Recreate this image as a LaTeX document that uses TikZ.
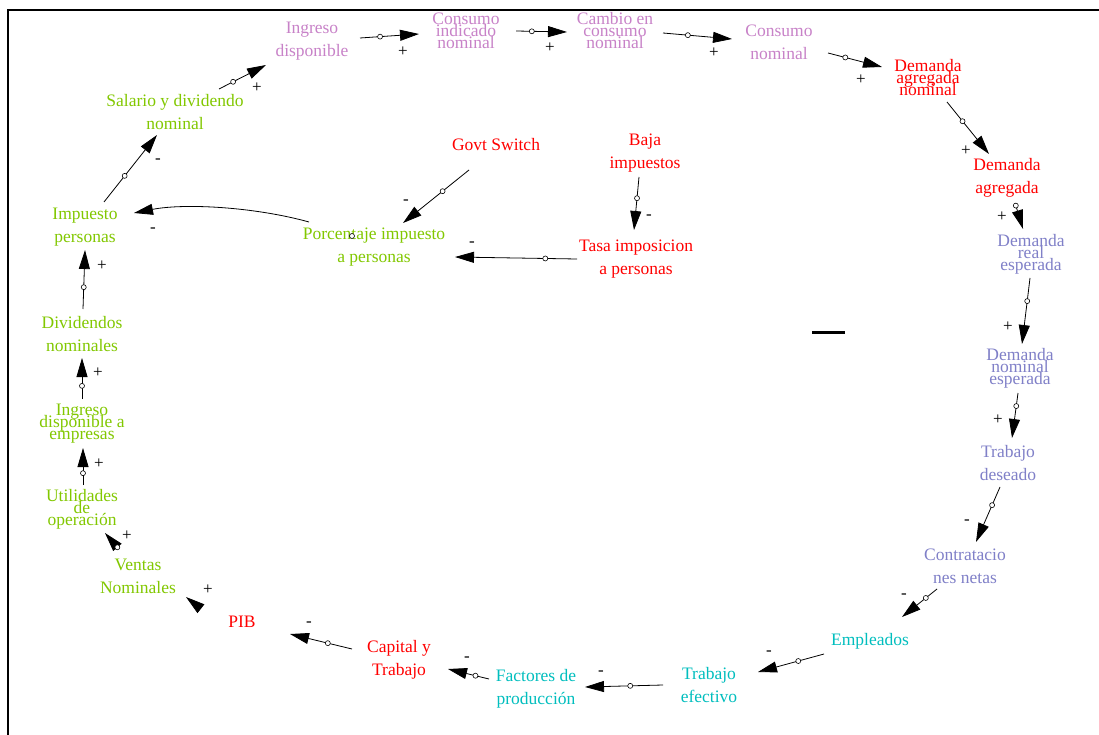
\documentclass[tikz,border=0pt]{standalone}
\usepackage{fontspec}
\setmainfont{Liberation Serif}
\usetikzlibrary{arrows.meta,calc}
\definecolor{cviol}{RGB}{200,130,200}
\definecolor{cgreen}{RGB}{130,200,0}
\definecolor{cblue}{RGB}{128,128,200}
\definecolor{ccyan}{RGB}{0,190,190}
\definecolor{cred}{RGB}{255,0,0}
\begin{document}
\begin{tikzpicture}[x=1pt,y=-1pt,
  lbl/.style={inner sep=0pt,align=center,font=\fontsize{17.5}{23}\selectfont},
  vi/.style={lbl,text=cviol},
  gr/.style={lbl,text=cgreen},
  bl/.style={lbl,text=cblue},
  cy/.style={lbl,text=ccyan},
  rd/.style={lbl,text=cred},
  lk/.style={draw=black,line width=0.8pt,-{Triangle[length=19pt,width=11pt]}},
  hc/.style={circle,draw=black,fill=white,inner sep=0pt,minimum size=5pt,line width=0.6pt},
  pm/.style={inner sep=0pt,font=\fontsize{17}{20}\selectfont}]
\useasboundingbox (0,0) rectangle (1099,735);
\fill[white] (0,0) rectangle (1099,735);
\draw[line width=2.3pt] (8,735) -- (8,10) -- (1099,10);

% nodes
\node[gr] (sal) at (175,112) {Salario y dividendo\\nominal};
\node[vi] (ingd) at (312,41) {Ingreso\\disponible};
\node[vi] (cin) at (466,31) {Consumo\\[-11pt]indicado\\[-11pt]nominal};
\node[vi] (ccn) at (615,31) {Cambio en\\[-11pt]consumo\\[-11pt]nominal};
\node[vi] (cn) at (779,42) {Consumo\\nominal};
\node[rd] (dan) at (928,78) {Demanda\\[-11pt]agregada\\[-11pt]nominal};
\node[rd] (da) at (1007,178) {Demanda\\agregada};
\node[bl] (dre) at (1031,254) {Demanda\\[-11pt]real\\[-11pt]esperada};
\node[bl] (dne) at (1020,368) {Demanda\\[-11pt]nominal\\[-11pt]esperada};
\node[bl] (td) at (1008,463) {Trabajo\\deseado};
\node[bl] (con) at (965,566) {Contratacio\\nes netas};
\node[cy] (emp) at (870,641) {Empleados};
\node[cy] (te) at (709,685) {Trabajo\\efectivo};
\node[cy] (fp) at (536,689) {Factores de\\producción};
\node[rd] (ct) at (399,660) {Capital y\\Trabajo};
\node[rd] (pib) at (242,622) {PIB};
\node[gr] (ven) at (138,576) {Ventas\\Nominales};
\node[gr] (uti) at (82,509) {Utilidades\\[-11pt]de\\[-11pt]operación};
\node[gr] (ide) at (82,424) {Ingreso\\[-11pt]disponible a\\[-11pt]empresas};
\node[gr] (div) at (82,334) {Dividendos\\nominales};
\node[gr] (imp) at (85,227) {Impuesto\\personas};
\node[gr] (por) at (374,247) {Porcentaje impuesto\\a personas};
\node[rd] (gov) at (496,145) {Govt Switch};
\node[rd] (baj) at (645,153) {Baja\\impuestos};
\node[rd] (tas) at (636,259) {Tasa imposicion\\a personas};

% connectors
\draw[lk] ($(sal)+(44,-23)$) -- node[hc,pos=.30]{} ($(ingd)+(-46,24)$);
\draw[lk] ($(ingd)+(48,-3)$) -- node[hc,pos=.34]{} ($(cin)+(-47,3)$);
\draw[lk] ($(cin)+(50,0)$) -- node[hc,pos=.31]{} ($(ccn)+(-48,1)$);
\draw[lk] ($(ccn)+(48,2)$) -- node[hc,pos=.36]{} ($(cn)+(-47,-3)$);
\draw[lk] ($(cn)+(49,11)$) -- node[hc,pos=.32]{} ($(dan)+(-46,-11)$);
\draw[lk] ($(dan)+(19,24)$) -- node[hc,pos=.37]{} ($(da)+(-18,-24)$);
\draw[lk] ($(da)+(8,25)$) -- node[hc,pos=.10]{} ($(dre)+(-8,-25)$);
\draw[lk] ($(dre)+(-1,24)$) -- node[hc,pos=.35]{} ($(dne)+(2,-24)$);
\draw[lk] ($(dne)+(-2,25)$) -- node[hc,pos=.29]{} ($(td)+(4,-25)$);
\draw[lk] ($(td)+(-8,24)$) -- node[hc,pos=.33]{} ($(con)+(11,-24)$);
\draw[lk] ($(con)+(-28,23)$) -- node[hc,pos=.32]{} ($(emp)+(32,-24)$);
\draw[lk] ($(emp)+(-46,13)$) -- node[hc,pos=.39]{} ($(te)+(49,-13)$);
\draw[lk] ($(te)+(-46,0)$) -- node[hc,pos=.42]{} ($(fp)+(49,-2)$);
\draw[lk] ($(fp)+(-47,-10)$) -- node[hc,pos=.33]{} ($(ct)+(49,9)$);
\draw[lk] ($(ct)+(-47,-11)$) -- node[hc,pos=.39]{} ($(pib)+(48,12)$);
\draw[lk] ($(pib)+(-42,-14)$) -- ($(ven)+(48,21)$);
\draw[lk] ($(ven)+(-20,-28)$) -- node[hc,pos=.05]{} ($(uti)+(23,24)$);
\draw[lk] ($(uti)+(1,-24)$) -- node[hc,pos=.32]{} ($(ide)+(1,24)$);
\draw[lk] ($(ide)+(0,-25)$) -- node[hc,pos=.32]{} ($(div)+(0,24)$);
\draw[lk] ($(div)+(1,-25)$) -- node[hc,pos=.37]{} ($(imp)+(0,23)$);
\draw[lk] ($(imp)+(19,-25)$) -- node[hc,pos=.39]{} ($(sal)+(-18,23)$);
\draw[lk] ($(por)+(-65,-25)$) .. controls (255,207) and (185,203) .. ($(imp)+(49,-14)$);
\node[hc] (h22) at (352,236) {};
\draw[lk] ($(gov)+(-27,25)$) -- node[hc,pos=.40]{} ($(por)+(29,-24)$);
\draw[lk] ($(baj)+(-6,24)$) -- node[hc,pos=.40]{} ($(tas)+(-2,-29)$);
\draw[lk] ($(tas)+(-59,0)$) -- node[hc,pos=.26]{} ($(por)+(81,10)$);

% polarities
\node[pm] (p1) at (257,88) {+};
\node[pm] (p2) at (403,52) {+};
\node[pm] (p3) at (550,48) {+};
\node[pm] (p4) at (714,53) {+};
\node[pm] (p5) at (861,80) {+};
\node[pm] (p6) at (966,151) {+};
\node[pm] (p7) at (1002,217) {+};
\node[pm] (p8) at (1008,327) {+};
\node[pm] (p9) at (998,420) {+};
\node[pm] (p10) at (967,522) {-};
\node[pm] (p11) at (904,596) {-};
\node[pm] (p12) at (769,653) {-};
\node[pm] (p13) at (601,673) {-};
\node[pm] (p14) at (467,659) {-};
\node[pm] (p15) at (309,624) {-};
\node[pm] (p16) at (208,590) {+};
\node[pm] (p17) at (127,536) {+};
\node[pm] (p18) at (99,464) {+};
\node[pm] (p19) at (98,373) {+};
\node[pm] (p20) at (102,266) {+};
\node[pm] (p21) at (158,161) {-};
\node[pm] (p22) at (153,230) {-};
\node[pm] (p23) at (406,202) {-};
\node[pm] (p24) at (649,217) {-};
\node[pm] (p25) at (472,244) {-};

% loop sign
\draw[line width=3pt] (812,332) -- (845,332);
\end{tikzpicture}
\end{document}
